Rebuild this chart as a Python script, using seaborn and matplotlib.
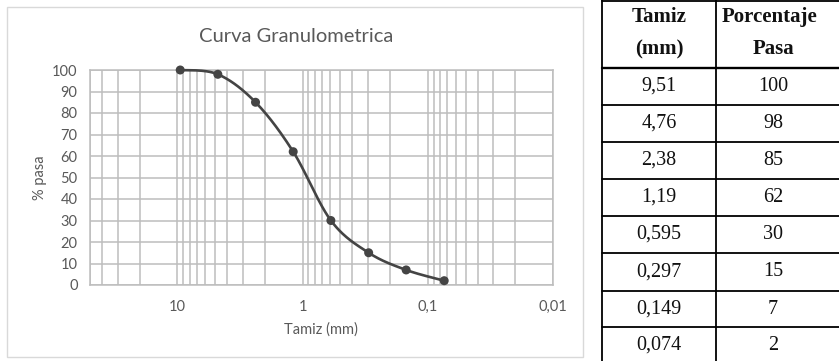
import numpy as np
import pandas as pd
import matplotlib
matplotlib.use("Agg")
import matplotlib.pyplot as plt
import seaborn as sns
from matplotlib.ticker import FixedLocator, FixedFormatter, NullFormatter, LogLocator
from matplotlib.lines import Line2D
from matplotlib.patches import Rectangle

# Sieve analysis data
tamiz_mm = [9.51, 4.76, 2.38, 1.19, 0.595, 0.297, 0.149, 0.074]
pasa = [100, 98, 85, 62, 30, 15, 7, 2]

x_ticks = [10, 1, 0.1, 0.01]
x_tick_labels = ["10", "1", "0,1", "0,01"]
y_ticks = list(range(0, 101, 10))

title = "Curva Granulometrica"
x_label = "Tamiz (mm)"
y_label = "% pasa"
table_header = [("Tamiz", "(mm)"), ("Porcentaje", "Pasa")]

sns.set_theme(style="white")
plt.rcParams["font.family"] = ["Lato", "DejaVu Sans"]

W, H = 839, 361
fig = plt.figure(figsize=(W / 100, H / 100), dpi=100)
fig.patch.set_facecolor("white")


def fx(px):
    return px / W


def fy(py):
    return 1 - py / H


TEXT = "#595959"
GRID = "#bdbdbd"
LINE = "#444444"


def smooth_curve(xs, ys, n=40):
    """Catmull-Rom style Bezier smoothing in (log10 x, y) space."""
    u = np.log10(np.asarray(xs, float))
    v = np.asarray(ys, float)
    P = np.column_stack([u, v])
    k = len(P)
    out = []
    t = np.linspace(0, 1, n)[:, None]
    for i in range(k - 1):
        p_prev = P[i - 1] if i > 0 else P[i]
        p0, p1 = P[i], P[i + 1]
        p_next = P[i + 2] if i + 2 < k else P[i + 1]
        c1 = p0 + (p1 - p_prev) / 6
        c2 = p1 - (p_next - p0) / 6
        seg = ((1 - t) ** 3) * p0 + 3 * ((1 - t) ** 2) * t * c1 + 3 * (1 - t) * t ** 2 * c2 + t ** 3 * p1
        out.append(seg if i == 0 else seg[1:])
    out = np.vstack(out)
    return 10 ** out[:, 0], out[:, 1]


# Chart frame
fig.add_artist(Rectangle((fx(7), fy(357)), fx(583) - fx(7), fy(7) - fy(357),
                         transform=fig.transFigure, facecolor="white",
                         edgecolor="#d9d9d9", lw=1.0, zorder=0))

ax = fig.add_axes([fx(90), fy(285), fx(553) - fx(90), fy(70) - fy(285)])
ax.set_facecolor("white")

sx, sy = smooth_curve(tamiz_mm, pasa)
curve = pd.DataFrame({"tamiz": sx, "pasa": sy})
points = pd.DataFrame({"tamiz": tamiz_mm, "pasa": pasa})

sns.lineplot(data=curve, x="tamiz", y="pasa", sort=False, estimator=None,
             color=LINE, lw=1.9, ax=ax, zorder=3)
sns.scatterplot(data=points, x="tamiz", y="pasa", s=42, color=LINE,
                edgecolor="none", ax=ax, zorder=4, clip_on=False)
for ln in ax.lines:
    ln.set_clip_on(False)

ax.set_xscale("log")
ax.set_xlim(50, 0.01)
ax.set_ylim(0, 100)
ax.xaxis.set_major_locator(FixedLocator(x_ticks))
ax.xaxis.set_major_formatter(FixedFormatter(x_tick_labels))
ax.xaxis.set_minor_locator(LogLocator(base=10, subs=np.arange(2, 10)))
ax.xaxis.set_minor_formatter(NullFormatter())
ax.yaxis.set_major_locator(FixedLocator(y_ticks))

ax.grid(True, which="both", axis="x", color=GRID, lw=1.1)
ax.grid(True, which="major", axis="y", color=GRID, lw=1.1)
ax.set_axisbelow(True)
for s in ax.spines.values():
    s.set_visible(True)
    s.set_color(GRID)
    s.set_linewidth(1.1)

ax.tick_params(which="both", length=0, labelsize=10.5, labelcolor=TEXT)
ax.tick_params(axis="y", pad=9)
ax.tick_params(axis="x", pad=11)
ax.set_xlabel("")
ax.set_ylabel("")

fig.text(fx(296), fy(37), title, ha="center", va="center", fontsize=14.5, color=TEXT)
fig.text(fx(321), fy(330), x_label, ha="center", va="center", fontsize=10.5, color=TEXT)
fig.text(fx(40), fy(178), y_label, ha="center", va="center", rotation=90,
         fontsize=10.5, color=TEXT)

# Data table on the right
serif = ["Liberation Serif", "DejaVu Serif"]
INK = "#111111"
col_x = [602, 716]
col_center = [659, 773]
row_lines = [68, 105, 142, 179, 216, 253, 291, 327]


def hline(py, lw=1.2):
    fig.add_artist(Line2D([fx(col_x[0]), 1.0], [fy(py), fy(py)],
                          transform=fig.transFigure, color="black", lw=lw))


for cx in col_x:
    fig.add_artist(Line2D([fx(cx), fx(cx)], [fy(0), fy(H)],
                          transform=fig.transFigure, color="black", lw=1.3))
hline(1, lw=1.3)
for i, py in enumerate(row_lines):
    hline(py, lw=1.7 if i == 0 else 1.3)

# Header cells
fig.text(fx(col_center[0]), fy(17), table_header[0][0], ha="center", va="center",
         fontsize=15, fontweight="bold", family=serif, color=INK)
fig.text(fx(col_center[0]), fy(49), table_header[0][1], ha="center", va="center",
         fontsize=15, fontweight="bold", family=serif, color=INK)
fig.text(fx(722), fy(17), table_header[1][0], ha="left", va="center",
         fontsize=15, fontweight="bold", family=serif, color=INK)
fig.text(fx(col_center[1]), fy(49), table_header[1][1], ha="center", va="center",
         fontsize=15, fontweight="bold", family=serif, color=INK)


def fmt(v):
    return f"{v:g}".replace(".", ",")


row_centers = [(a + b) / 2 for a, b in zip(row_lines, row_lines[1:] + [row_lines[-1] + 37])]
for yc, t, p in zip(row_centers, tamiz_mm, pasa):
    fig.text(fx(col_center[0]), fy(yc), fmt(t), ha="center", va="center",
             fontsize=14.5, family=serif, color=INK)
    fig.text(fx(col_center[1]), fy(yc), fmt(p), ha="center", va="center",
             fontsize=14.5, family=serif, color=INK)

fig.savefig("out.png", dpi=100, facecolor="white")
